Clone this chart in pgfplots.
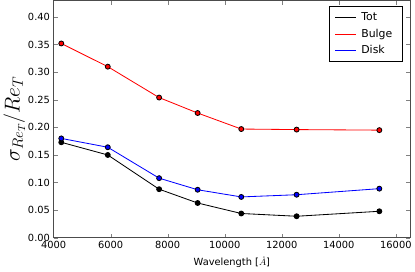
\documentclass[border=0pt]{standalone}
\usepackage{pgfplots}
\pgfplotsset{compat=1.18}
\usepackage{fontspec}
\setmainfont{DejaVu Sans}
\begin{document}
\begin{tikzpicture}
\begin{axis}[
  scale only axis, width=344pt, height=229pt,
  xmin=4000, xmax=16500, ymin=0, ymax=0.43,
  xtick={4000,6000,...,16000},
  ytick={0,0.05,...,0.4},
  scaled ticks=false,
  minor tick num=0,
  tick align=inside,
  major tick length=4pt,
  /pgf/number format/assume math mode=true,
  x tick label style={font=\fontsize{9.5}{10}\selectfont, /pgf/number format/set thousands separator={}},
  y tick label style={font=\fontsize{9.5}{10}\selectfont, /pgf/number format/fixed, /pgf/number format/fixed zerofill, /pgf/number format/precision=2},
  xlabel={Wavelength [$\mathring{A}$]},
  xlabel style={font=\fontsize{9.5}{10}\selectfont, yshift=-1pt},
  ylabel={$\sigma_{Re_T}/Re_T$},
  ylabel style={font=\fontsize{20}{22}\selectfont, yshift=-4pt},
  axis line style={black!70, line width=0.8pt},
  legend style={at={(rel axis cs:0.98,0.975)}, anchor=north east, font=\fontsize{10.5}{12}\selectfont, draw=black, line width=0.6pt, inner xsep=5pt, inner ysep=4pt, row sep=2.5pt, nodes={inner xsep=5pt}},
  legend cell align=left,
  legend image code/.code={\draw[#1] (0pt,0pt) -- (20pt,0pt);},
]
\addlegendimage{black, line width=0.8pt}
\addlegendentry{Tot}
\addlegendimage{red, line width=0.8pt}
\addlegendentry{Bulge}
\addlegendimage{blue, line width=0.8pt}
\addlegendentry{Disk}
\addplot[forget plot, black, line width=0.8pt, mark=*, mark size=2.4pt, mark options={fill=black, draw=black}]
 coordinates {(4270,0.173) (5900,0.150) (7700,0.088) (9050,0.063) (10580,0.044) (12520,0.039) (15420,0.048)};
\addplot[forget plot, red, line width=0.8pt, mark=*, mark size=2.4pt, mark options={fill=red, draw=black}]
 coordinates {(4270,0.352) (5900,0.310) (7700,0.254) (9050,0.226) (10580,0.197) (12520,0.196) (15420,0.195)};
\addplot[forget plot, blue, line width=0.8pt, mark=*, mark size=2.4pt, mark options={fill=blue, draw=black}]
 coordinates {(4270,0.180) (5900,0.164) (7700,0.108) (9050,0.087) (10580,0.074) (12520,0.078) (15420,0.089)};
\end{axis}
\end{tikzpicture}
\end{document}
